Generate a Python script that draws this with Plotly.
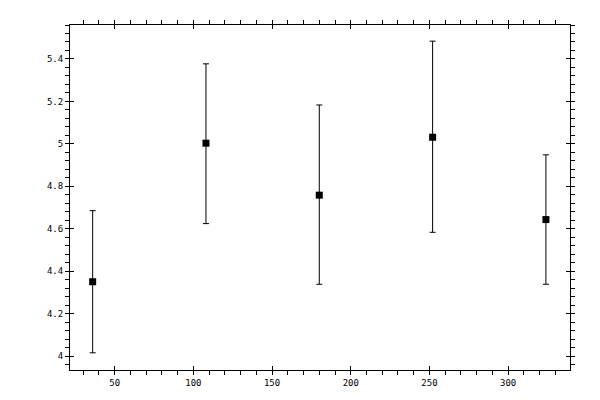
import plotly.graph_objects as go

# ===== DATA ===== #
xValues = [36, 108, 180, 252, 324]
yValues = [4.35, 5.003, 4.758, 5.031, 4.643]
yUpper = [4.685, 5.377, 5.183, 5.484, 4.948]
yLower = [4.015, 4.624, 4.338, 4.583, 4.338]

xRange = [21.6, 339.3]
yRange = [3.934, 5.56]

errPlus = [u - y for u, y in zip(yUpper, yValues)]
errMinus = [y - l for y, l in zip(yValues, yLower)]

fig = go.Figure()

fig.add_trace(go.Scatter(
    x=xValues, y=yValues, mode="markers",
    marker=dict(symbol="square", size=7, color="black"),
    error_y=dict(type="data", symmetric=False, array=errPlus, arrayminus=errMinus,
                 color="black", thickness=1, width=3),
    showlegend=False,
))

font = dict(family="DejaVu Sans Mono", size=9, color="black")

# Main axes: outside ticks (major + minor) on all four sides
axisCommon = dict(showgrid=False, zeroline=False, showline=True, linecolor="black",
                  linewidth=1, mirror="allticks", ticks="outside", ticklen=4,
                  tickwidth=1, tickcolor="black", tickfont=font)

fig.update_xaxes(range=xRange, tick0=0, dtick=50,
                 minor=dict(dtick=10, ticks="outside", ticklen=4, tickcolor="black", tickwidth=1),
                 **axisCommon)
fig.update_yaxes(range=yRange, tick0=4, dtick=0.2, tickformat="~g",
                 minor=dict(tick0=4, dtick=0.04, ticks="outside", ticklen=4, tickcolor="black", tickwidth=1),
                 **axisCommon)

# Overlay axes: inside major ticks so the major ticks cross the frame
overlayCommon = dict(showgrid=False, zeroline=False, showline=False, mirror="allticks",
                     ticks="inside", ticklen=4, tickwidth=1, tickcolor="black",
                     showticklabels=False)

fig.update_layout(
    xaxis2=dict(overlaying="x", range=xRange, tick0=0, dtick=50, anchor="y", **overlayCommon),
    yaxis2=dict(overlaying="y", range=yRange, tick0=4, dtick=0.2, anchor="x", **overlayCommon),
    width=600, height=400,
    # page body adds an 8px offset, so margins are shifted to compensate
    margin=dict(l=62, r=38, t=12, b=38),
    plot_bgcolor="white", paper_bgcolor="white",
    font=font,
)

# dummy trace to keep overlay axes alive
fig.add_trace(go.Scatter(x=[None], y=[None], xaxis="x2", yaxis="y2", showlegend=False,
                         hoverinfo="skip"))

fig.write_html("out.html")
